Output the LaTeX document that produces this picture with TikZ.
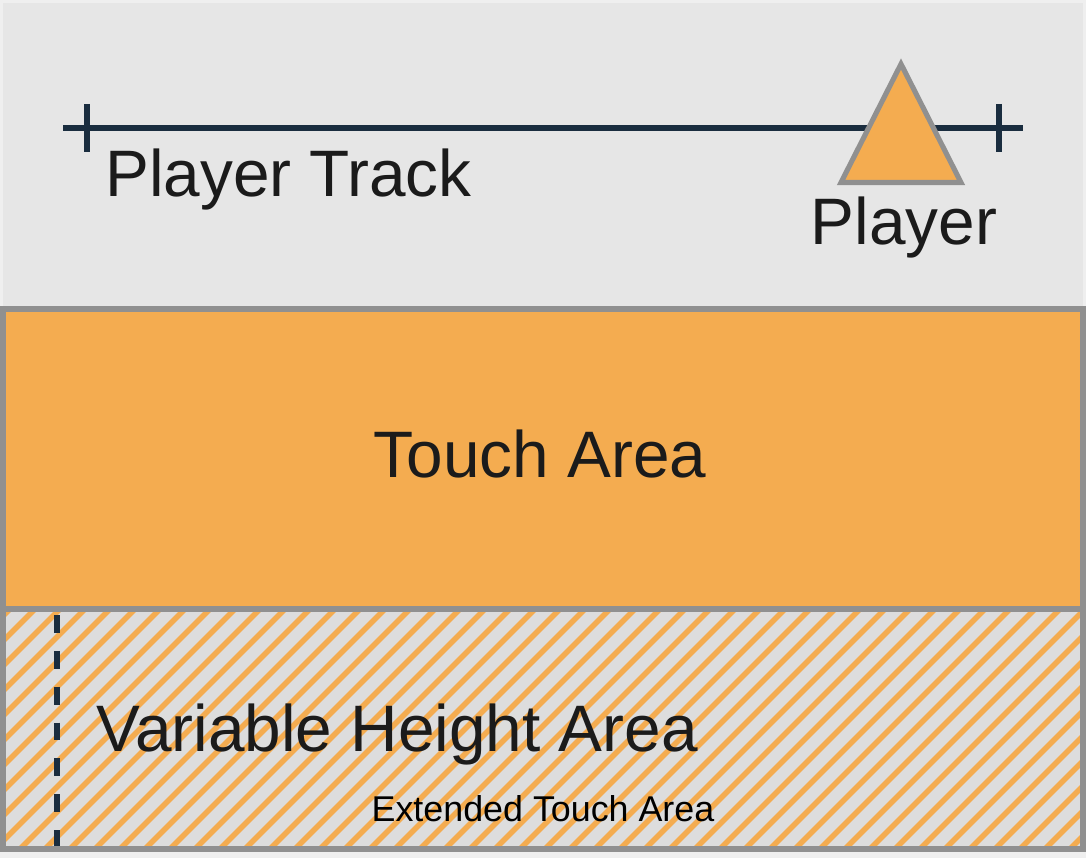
\documentclass[tikz,border=0pt]{standalone}
\usepackage{fontspec}
\setmainfont{Liberation Sans}
\usetikzlibrary{positioning}

\definecolor{pagebg}{HTML}{EFEFEF}
\definecolor{panelgray}{HTML}{E6E6E6}
\definecolor{hatchgray}{HTML}{DDDDDD}
\definecolor{bordergray}{HTML}{909090}
\definecolor{touchorange}{HTML}{F4AC50}
\definecolor{trackblue}{HTML}{1A2D3F}
\definecolor{textdark}{HTML}{1B1B1B}

\begin{document}
\begin{tikzpicture}[
  x=0.02cm, y=-0.02cm,
  area/.style={draw=bordergray, line width=3.4pt},
  bigtext/.style={inner sep=0pt, font=\fontsize{37.4}{44}\selectfont, text=textdark},
  smalltext/.style={inner sep=0pt, font=\fontsize{20.4}{24}\selectfont, text=black},
  trackline/.style={draw=trackblue, line width=2.9pt},
  edgeline/.style={draw=trackblue, line width=3.4pt, dash pattern=on 10.2pt off 10.2pt},
  hatchline/.style={draw=touchorange, line width=3.1pt}
]
\def\xLeft{3}
\def\xRight{1083}
\def\yTop{3}
\def\yTouch{309}
\def\yHatch{609}
\def\yBottom{849}
\def\yTrack{128}

% page and top panel
\fill[pagebg] (0,0) rectangle (1086,858);
\useasboundingbox (0,0) rectangle (1086,858);
\fill[panelgray] (\xLeft,\yTop) rectangle (\xRight,\yTouch);

% player track
\coordinate (trackL) at (63,\yTrack);
\coordinate (trackR) at (1023,\yTrack);
\coordinate (tickL) at (87,\yTrack);
\coordinate (tickR) at (999,\yTrack);
\draw[trackline] (trackL) -- (trackR);
\draw[trackline] ([yshift=24*0.02cm]tickL) -- ([yshift=-24*0.02cm]tickL);
\draw[trackline] ([yshift=24*0.02cm]tickR) -- ([yshift=-24*0.02cm]tickR);
\node[bigtext, anchor=base west] (tracklabel) at (105,197) {Player Track};

% player
\draw[draw=bordergray, fill=touchorange, line width=2.9pt, line join=miter]
  (901,64) coordinate (playertop) -- (961,182.5) -- (841,182.5) -- cycle;
\node[bigtext, anchor=base] (playerlabel) at (904,245) {Player};

% touch area
\fill[touchorange] (\xLeft,\yTouch) rectangle (\xRight,\yHatch);
\node[bigtext, anchor=base] (touchlabel) at (540,478) {Touch Area};

% variable height area
\fill[hatchgray] (\xLeft,\yHatch) rectangle (\xRight,\yBottom);
\begin{scope}
  \clip (\xLeft,\yHatch) rectangle (\xRight,\yBottom);
  \foreach \n in {24,...,78}
    \draw[hatchline] ({19+25*\n-\yHatch+10},\yHatch-10) -- ({19+25*\n-\yBottom-10},\yBottom+10);
\end{scope}
\draw[edgeline] (57,615) -- (57,\yBottom);
\node[bigtext, anchor=base west] (varlabel) at (96,751) {Variable Height Area};
\node[smalltext, anchor=base] (extlabel) at (543,821) {Extended Touch Area};

% borders
\draw[area] (\xLeft,\yTouch) rectangle (\xRight,\yHatch);
\draw[area] (\xLeft,\yHatch) rectangle (\xRight,\yBottom);
\end{tikzpicture}
\end{document}
